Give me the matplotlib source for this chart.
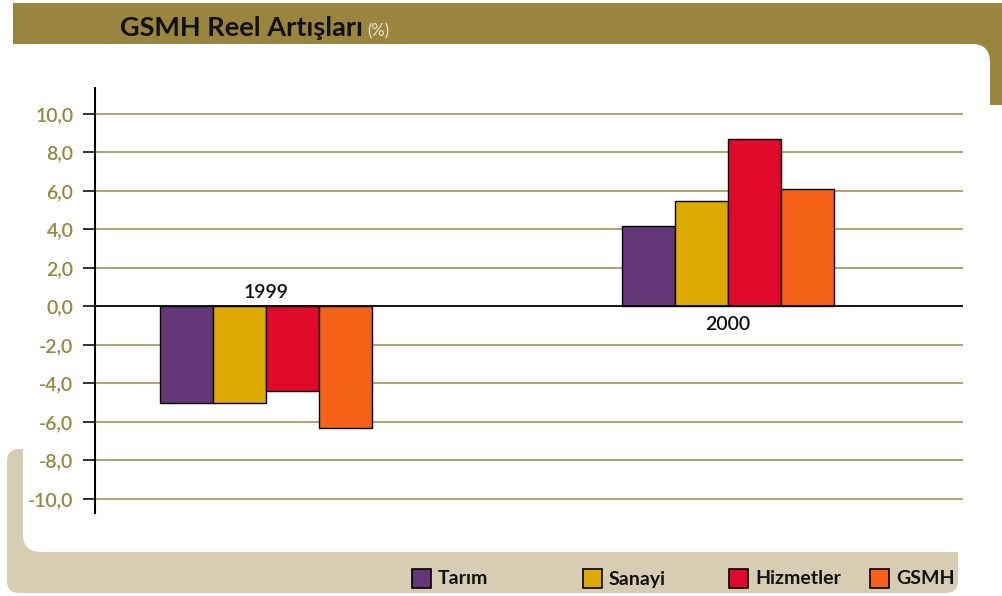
import matplotlib

matplotlib.use("Agg")
import matplotlib.pyplot as plt
from matplotlib.patches import FancyBboxPatch, Rectangle
from matplotlib.transforms import IdentityTransform

# GSMH real growth by sector (%)
years = ["1999", "2000"]
sectors = ["Tarım", "Sanayi", "Hizmetler", "GSMH"]
tarim = [-5.0, 4.2]
sanayi = [-5.0, 5.5]
hizmetler = [-4.4, 8.7]
gsmh = [-6.3, 6.1]
yticks = [10, 8, 6, 4, 2, 0, -2, -4, -6, -8, -10]
ytick_labels = ["10,0", "8,0", "6,0", "4,0", "2,0", "0,0", "-2,0", "-4,0", "-6,0", "-8,0", "-10,0"]

colors = ["#653778", "#dea900", "#e00a2b", "#f56217"]
olive = "#9a853f"
grid_col = "#a99b63"
beige = "#d6cdb3"

W, H = 1002, 596

plt.rcParams["font.family"] = ["Lato", "DejaVu Sans"]

fig = plt.figure(figsize=(W / 100, H / 100), dpi=100)


def fx(x):
    return x / W


def fy(y):
    return 1 - y / H


def pbox(x0, y0, x1, y1, color, r=0, z=0):
    # background shapes given in pixel coords from the top-left
    if r:
        p = FancyBboxPatch(
            (x0, H - y1), x1 - x0, y1 - y0,
            boxstyle=f"round,pad=0,rounding_size={r}",
            transform=IdentityTransform(), fc=color, ec="none", zorder=z,
        )
    else:
        p = Rectangle((x0, H - y1), x1 - x0, y1 - y0,
                      transform=IdentityTransform(), fc=color, ec="none", zorder=z)
    fig.add_artist(p)


# frame pieces
pbox(13, 3, 1002, 44, olive, z=0)
pbox(960, 30, 1002, 105, olive, z=0)
pbox(7, 449, 958, 593, beige, r=12, z=0)
pbox(23, 44, 990, 552, "white", r=18, z=1)

fig.text(fx(120), fy(28), "GSMH Reel Artışları", fontsize=19.5, fontweight="bold",
         color="#111111", va="center", ha="left")
fig.text(fx(367), fy(31), "(%)", fontsize=12, color="#ece5cf", va="center", ha="left")

# chart axes
ax = fig.add_axes([fx(95), fy(513), fx(963) - fx(95), fy(88) - fy(513)])
ax.set_zorder(5)
ax.patch.set_alpha(0)

w = 0.1147
series = [tarim, sanayi, hizmetler, gsmh]
for i, vals in enumerate(series):
    xs = [k + (i - 1.5) * w for k in range(len(years))]
    ax.bar(xs, vals, width=w, color=colors[i], edgecolor="black", linewidth=1, zorder=3)

for y in yticks:
    if y != 0:
        ax.axhline(y, color=grid_col, lw=1.3, zorder=1)
ax.axhline(0, color="black", lw=1.3, zorder=4)

ax.set_xlim(-0.370, 1.509)
ax.set_ylim(-10.73, 11.35)
ax.set_yticks(yticks)
ax.set_yticklabels(ytick_labels)
ax.set_xticks([])
ax.tick_params(axis="y", length=8.6, width=1.3, color="#222222", pad=7,
               labelsize=14, labelcolor=olive)
for lab in ax.get_yticklabels():
    lab.set_fontweight("semibold")
for s in ["top", "right", "bottom"]:
    ax.spines[s].set_visible(False)
ax.spines["left"].set_linewidth(1.5)

# year labels sit on the side opposite the bars
ax.annotate(years[0], (0, 0), xytext=(0, 4), textcoords="offset points",
            ha="center", va="bottom", fontsize=14, fontweight="semibold", color="#111111")
ax.annotate(years[1], (1, 0), xytext=(0, -7), textcoords="offset points",
            ha="center", va="top", fontsize=14, fontweight="semibold", color="#111111")

# legend on the beige band
leg_x = [412, 583, 729, 870]
for i, name in enumerate(sectors):
    fig.add_artist(Rectangle((leg_x[i], H - 588), 19, 19, transform=IdentityTransform(),
                             fc=colors[i], ec="black", lw=1.2, zorder=6))
    fig.text(fx(leg_x[i] + 26), fy(579), name, fontsize=14, fontweight="bold",
             color="#111111", va="center", ha="left", zorder=6)

fig.savefig("out.png", dpi=100)
